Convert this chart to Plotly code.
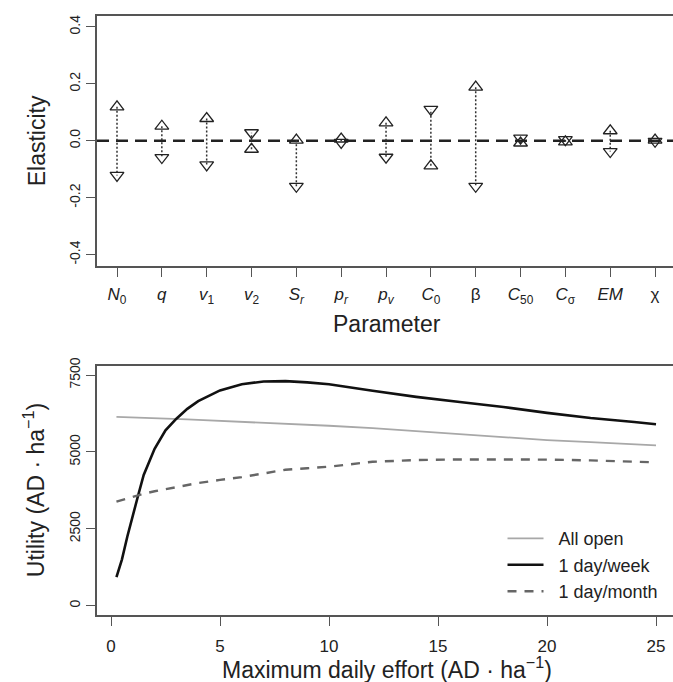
import plotly.graph_objects as go

# ---------------- Data: top panel (elasticities) ----------------
param_labels = ["<i>N</i><sub>0</sub>", "<i>q</i>", "<i>v</i><sub>1</sub>", "<i>v</i><sub>2</sub>",
                "<i>S</i><sub><i>r</i></sub>", "<i>p</i><sub><i>r</i></sub>", "<i>p</i><sub><i>v</i></sub>",
                "<i>C</i><sub>0</sub>", "β", "<i>C</i><sub>50</sub>", "<i>C</i><sub>σ</sub>", "<i>EM</i>", "χ"]
param_pos = list(range(1, 14))
elast_up = [0.119, 0.051, 0.078, -0.030, 0.002, 0.006, 0.063, -0.088, 0.188, -0.008, -0.004, 0.035, 0.002]
elast_down = [-0.122, -0.059, -0.085, 0.028, -0.160, -0.006, -0.058, 0.110, -0.160, 0.009, 0.004, -0.038, -0.002]
elast_ticks = [-0.4, -0.2, 0.0, 0.2, 0.4]
elast_ticklabels = ["-0.4", "-0.2", "0.0", "0.2", "0.4"]

# ---------------- Data: bottom panel (utility) ----------------
effort = [0.25, 0.5, 0.75, 1, 1.25, 1.5, 2, 2.5, 3, 3.5, 4, 5, 6, 7, 8, 9, 10, 12, 14, 16, 18, 20, 22, 24, 25]
all_open = [6140, 6135, 6130, 6125, 6120, 6115, 6100, 6085, 6070, 6055, 6040, 6010, 5985, 5960, 5925,
            5890, 5850, 5770, 5670, 5565, 5470, 5385, 5315, 5245, 5210]
one_week = [930, 1500, 2250, 2950, 3600, 4250, 5100, 5700, 6080, 6400, 6650, 7000, 7200, 7290, 7300,
            7260, 7200, 6990, 6790, 6620, 6460, 6270, 6100, 5970, 5900]
one_month = [3385, 3440, 3490, 3550, 3600, 3640, 3720, 3790, 3860, 3920, 3990, 4090, 4180, 4300, 4420,
             4470, 4520, 4680, 4735, 4755, 4760, 4750, 4725, 4690, 4660]
util_ticks = [0, 2500, 5000, 7500]
effort_ticks = [0, 5, 10, 15, 20, 25]
series_names = ["\u00a0\u00a0All open", "\u00a0\u00a01 day/week", "\u00a0\u00a01 day/month"]

FONT = "Liberation Sans, Arial, sans-serif"
TXT = "#222222"
AX = "#555555"

fig = go.Figure()

# dotted connectors
cx, cy = [], []
for p, u, d in zip(param_pos, elast_up, elast_down):
    cx += [p, p, None]
    cy += [u, d, None]
fig.add_trace(go.Scatter(x=cx, y=cy, mode="lines", line=dict(color="#333333", width=1.5, dash="2px,2px"),
                         showlegend=False, xaxis="x", yaxis="y", hoverinfo="skip"))
fig.add_trace(go.Scatter(x=param_pos, y=elast_up, mode="markers",
                         marker=dict(symbol="triangle-up-open", size=12, color="#222222", line=dict(width=1.3)),
                         showlegend=False, xaxis="x", yaxis="y"))
fig.add_trace(go.Scatter(x=param_pos, y=elast_down, mode="markers",
                         marker=dict(symbol="triangle-down-open", size=12, color="#222222", line=dict(width=1.3)),
                         showlegend=False, xaxis="x", yaxis="y"))

# bottom curves
fig.add_trace(go.Scatter(x=effort, y=all_open, mode="lines", name=series_names[0],
                         line=dict(color="#a8a8a8", width=1.8), xaxis="x2", yaxis="y2"))
fig.add_trace(go.Scatter(x=effort, y=one_week, mode="lines", name=series_names[1],
                         line=dict(color="#111111", width=2.6), xaxis="x2", yaxis="y2"))
fig.add_trace(go.Scatter(x=effort, y=one_month, mode="lines", name=series_names[2],
                         line=dict(color="#666666", width=2.4, dash="9px,8px"), xaxis="x2", yaxis="y2"))

fig.add_shape(type="line", xref="x domain", yref="y", x0=0, x1=1, y0=0, y1=0,
              line=dict(color="#222222", width=2.5, dash="12px,7px"), layer="below")

axis_common = dict(showgrid=False, zeroline=False, showline=True, linecolor=AX, linewidth=1.5,
                   ticks="outside", ticklen=9, tickwidth=1.3, tickcolor=AX, automargin=False)
xfont = dict(family=FONT, size=17, color=TXT)
yfont = dict(family=FONT, size=14, color=TXT)
tfont = dict(family=FONT, size=23, color=TXT)

fig.update_layout(
    width=673, height=682,
    margin=dict(l=97, r=0, t=16, b=67),
    paper_bgcolor="white", plot_bgcolor="white",
    font=dict(family=FONT, color=TXT),
    xaxis=dict(axis_common, domain=[0, 1], anchor="y", range=[0.554, 13.40], mirror=True,
               tickvals=param_pos, ticktext=param_labels, tickfont=xfont, ticklabelstandoff=3),
    yaxis=dict(axis_common, domain=[0.5826, 1], anchor="x", range=[-0.44, 0.438],
               tickvals=elast_ticks, ticktext=elast_ticklabels, tickangle=-90, tickfont=yfont,
               ticklabelstandoff=1),
    xaxis2=dict(axis_common, domain=[0, 1], anchor="y2", range=[-0.642, 25.78], mirror=True,
                tickvals=effort_ticks, tickfont=xfont, ticklabelstandoff=6),
    yaxis2=dict(axis_common, domain=[0, 0.4157], anchor="x2", range=[-302, 7793],
                tickvals=util_ticks, tickangle=-90, tickfont=yfont, ticklabelstandoff=1),
    legend=dict(x=0.704, y=0.008, xanchor="left", yanchor="bottom", bgcolor="rgba(0,0,0,0)",
                font=dict(family=FONT, size=18, color=TXT), itemwidth=36, tracegroupgap=0),
    annotations=[
        dict(text="Elasticity", xref="paper", yref="paper", x=-0.104, y=0.791, textangle=-90,
             showarrow=False, font=tfont, xanchor="center", yanchor="middle"),
        dict(text="Parameter", xref="paper", yref="paper", x=0.5035, y=0.4858,
             showarrow=False, font=tfont, xanchor="center", yanchor="middle"),
        dict(text="Utility (AD · ha<sup>−1</sup>)", xref="paper", yref="paper", x=-0.109, y=0.2087,
             textangle=-90, showarrow=False, font=tfont, xanchor="center", yanchor="middle"),
        dict(text="Maximum daily effort (AD · ha<sup>−1</sup>)", xref="paper", yref="paper",
             x=0.5035, y=-0.0885, showarrow=False, font=tfont, xanchor="center", yanchor="middle"),
    ],
)

fig.write_html("out.html", config={"displayModeBar": False},
               post_script="document.body.style.margin='0';document.body.style.overflow='hidden';")
